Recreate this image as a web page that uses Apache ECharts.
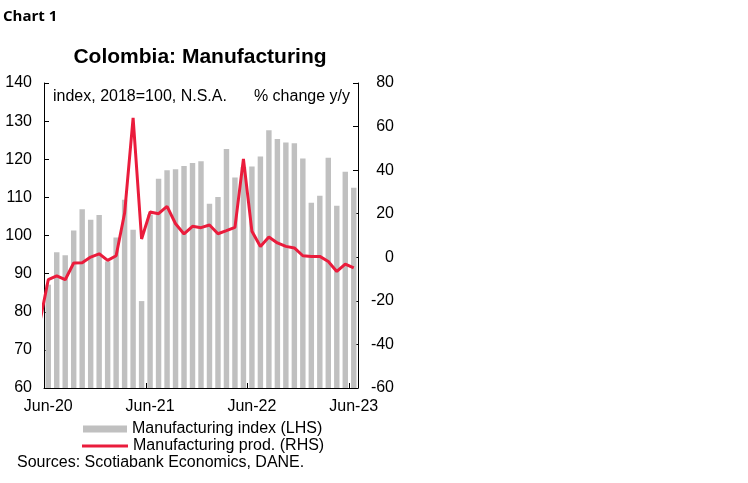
<!DOCTYPE html>
<html>
<head>
<meta charset="utf-8">
<script src="https://cdn.jsdelivr.net/npm/echarts@6/dist/echarts.min.js"></script>
<style>
html,body{margin:0;padding:0;background:#fff;}
#chart{width:748px;height:483px;}
</style>
</head>
<body>
<div id="chart"></div>
<script>
// Months (May-20 is only a lead-in point for the line; the visible axis starts at Jun-20)
const months = ['May-20','Jun-20','Jul-20','Aug-20','Sep-20','Oct-20','Nov-20','Dec-20',
  'Jan-21','Feb-21','Mar-21','Apr-21','May-21','Jun-21','Jul-21','Aug-21','Sep-21','Oct-21','Nov-21','Dec-21',
  'Jan-22','Feb-22','Mar-22','Apr-22','May-22','Jun-22','Jul-22','Aug-22','Sep-22','Oct-22','Nov-22','Dec-22',
  'Jan-23','Feb-23','Mar-23','Apr-23','May-23','Jun-23'];
// Manufacturing index, 2018=100 (LHS), Jun-20 .. Jun-23
const indexValues = [87.1, 95.6, 94.8, 101.3, 106.9, 104.1, 105.4,
  93.2, 99.5, 109.4, 101.5, 82.8, 105.5, 114.9, 117.1, 117.4, 118.2, 119.0, 119.5,
  108.3, 110.1, 122.7, 115.2, 118.0, 118.1, 120.7, 127.6, 125.3, 124.4, 124.2, 120.2,
  108.6, 110.4, 120.4, 107.8, 116.7, 112.5];
// Manufacturing production, % change y/y (RHS), May-20 .. Jun-23
const prodValues = [-30, -10.3, -8.5, -10.3, -2.6, -2.5, 0.1, 1.6,
  -1.4, 0.7, 20.3, 64, 8.4, 20.8, 20.0, 23.4, 15.4, 10.7, 14.2, 13.6,
  14.8, 10.8, 12.2, 13.7, 45.2, 11.9, 5.0, 9.3, 6.6, 5.0, 4.3, 0.7,
  0.4, 0.4, -1.9, -6.5, -3.1, -4.9];
const leftTicks = {min: 60, max: 140, interval: 10};
const rightTicks = {min: -60, max: 80, interval: 20};

const FONT = 'Liberation Sans, Arial, sans-serif';
const GRAY = '#c0c0c0';
const RED = '#ea1c3c';

const chart = echarts.init(document.getElementById('chart'), null, {renderer: 'canvas'});
const isJune = (idx, val) => typeof val === 'string' && val.indexOf('Jun') === 0;

chart.setOption({
  animation: false,
  backgroundColor: '#fff',
  grid: {left: 44, right: 390, top: 83, bottom: 95, containLabel: false},
  xAxis: {
    type: 'category',
    data: months,
    min: 1,
    boundaryGap: true,
    axisLine: {show: true, onZero: false, lineStyle: {color: '#000', width: 1}},
    axisTick: {show: true, inside: true, length: 5, interval: isJune, lineStyle: {color: '#000'}},
    axisLabel: {interval: isJune, color: '#000', fontSize: 16, fontFamily: FONT, margin: 11},
    splitLine: {show: false}
  },
  yAxis: [{
    type: 'value',
    position: 'left',
    min: leftTicks.min, max: leftTicks.max, interval: leftTicks.interval,
    axisLine: {show: true, onZero: false, lineStyle: {color: '#000', width: 1}},
    axisTick: {show: true, inside: true, length: 5, lineStyle: {color: '#000'}},
    axisLabel: {color: '#000', fontSize: 16, fontFamily: FONT, margin: 12},
    splitLine: {show: false}
  }, {
    type: 'value',
    position: 'right',
    min: rightTicks.min, max: rightTicks.max, interval: rightTicks.interval,
    axisLine: {show: true, onZero: false, lineStyle: {color: '#000', width: 1}},
    axisTick: {show: true, inside: true, length: 5, lineStyle: {color: '#000'}},
    axisLabel: {color: '#000', fontSize: 16, fontFamily: FONT, margin: 36, align: 'right'},
    splitLine: {show: false}
  }],
  legend: [{
    data: [{name: 'Manufacturing index (LHS)', icon: 'rect'}],
    left: 78, top: 416, itemWidth: 44, itemHeight: 7, itemGap: 5,
    textStyle: {color: '#000', fontSize: 16, fontFamily: FONT},
    selectedMode: false
  }, {
    data: [{name: 'Manufacturing prod. (RHS)', icon: 'rect'}],
    left: 77, top: 433, itemWidth: 46, itemHeight: 3, itemGap: 5,
    textStyle: {color: '#000', fontSize: 16, fontFamily: FONT},
    selectedMode: false
  }],
  graphic: [
    {type: 'text', x: 3, y: 17, style: {text: 'Chart 1', fontFamily: 'Open Sans, sans-serif', fontWeight: 'bold', fontSize: 15, fill: '#000', align: 'left', verticalAlign: 'middle'}},
    {type: 'text', x: 200, y: 57, style: {text: 'Colombia: Manufacturing', fontFamily: FONT, fontWeight: 'bold', fontSize: 21, fill: '#000', align: 'center', verticalAlign: 'middle'}},
    {type: 'text', x: 53, y: 97, style: {text: 'index, 2018=100, N.S.A.', fontFamily: FONT, fontSize: 16, fill: '#000', align: 'left', verticalAlign: 'middle'}},
    {type: 'text', x: 350, y: 97, style: {text: '% change y/y', fontFamily: FONT, fontSize: 16, fill: '#000', align: 'right', verticalAlign: 'middle'}},
    {type: 'text', x: 17, y: 463, style: {text: 'Sources: Scotiabank Economics, DANE.', fontFamily: FONT, fontSize: 16, fill: '#000', align: 'left', verticalAlign: 'middle'}}
  ],
  series: [{
    name: 'Manufacturing index (LHS)',
    type: 'bar',
    yAxisIndex: 0,
    data: [null].concat(indexValues),
    barWidth: '64%',
    itemStyle: {color: GRAY},
    z: 2
  }, {
    name: 'Manufacturing prod. (RHS)',
    type: 'line',
    yAxisIndex: 1,
    data: prodValues,
    symbol: 'none',
    clip: true,
    lineStyle: {color: RED, width: 3},
    itemStyle: {color: RED},
    z: 3
  }]
});
</script>
</body>
</html>
